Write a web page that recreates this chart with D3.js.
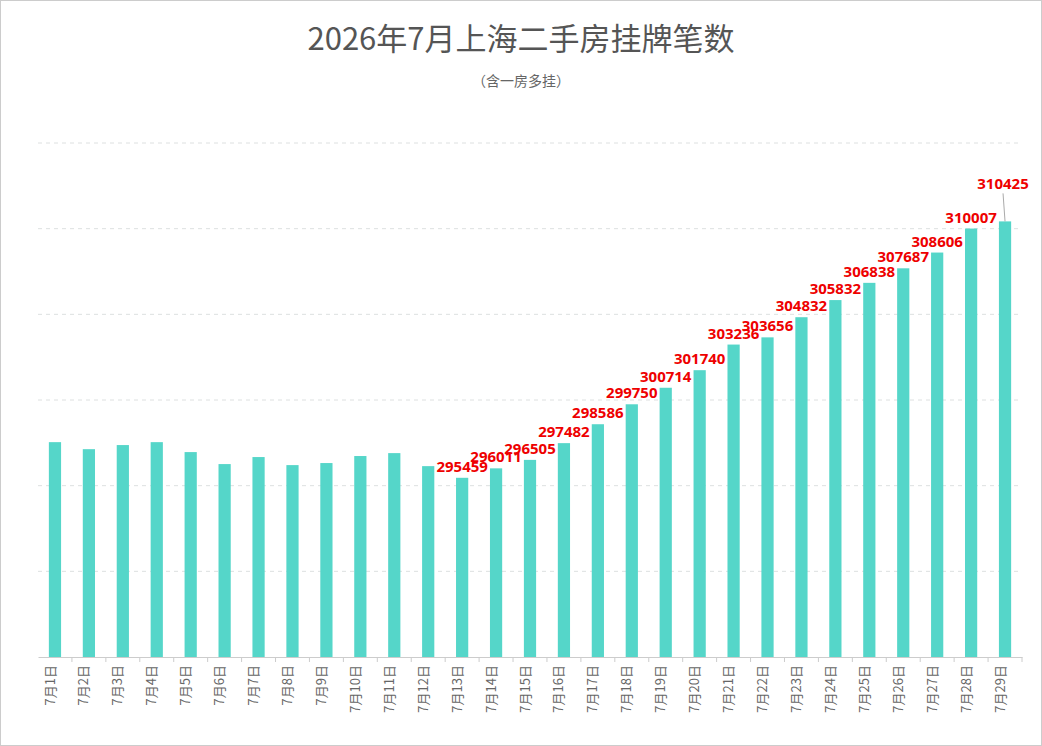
<!DOCTYPE html>
<html><head><meta charset="utf-8">
<script src="https://cdn.jsdelivr.net/npm/d3@7"></script>
<style>body{margin:0;background:#fff}</style>
</head><body><svg id="c"></svg>
<script>
var days = d3.range(1, 30).map(d => "7月" + d + "日")
var listings = [297540, 297130, 297370, 297540, 296960, 296260, 296670, 296200, 296320, 296730, 296900, 296140,
    295459, 296011, 296505, 297482, 298586, 299750, 300714, 301740, 303236, 303656, 304832, 305832,
    306838, 307687, 308606, 310007, 310425]
var firstLabeled = 12
var yTicks = [285000, 290000, 295000, 300000, 305000, 310000, 315000]

var W = 1042, H = 746
var margin = {top: 143, right: 20, bottom: 89, left: 38}
var svg = d3.select("#c").attr("width", W).attr("height", H)
svg.append("rect").attr("x", 0.5).attr("y", 0.5).attr("width", W - 1).attr("height", H - 1)
    .attr("fill", "#fff").attr("stroke", "#ccc")

svg.append("text").text("2026年7月上海二手房挂牌笔数")
    .attr("x", W / 2).attr("y", 50).attr("text-anchor", "middle")
    .style("font-size", "31px").style("font-family", "Noto Sans CJK SC").attr("fill", "#555")
svg.append("text").text("（含一房多挂）")
    .attr("x", W / 2).attr("y", 86).attr("text-anchor", "middle")
    .style("font-size", "14px").style("font-family", "Noto Sans CJK SC").attr("fill", "#666")

var width = W - margin.left - margin.right, height = H - margin.top - margin.bottom
var g = svg.append("g").attr("transform", `translate(${margin.left},${margin.top})`)

var x = d3.scaleBand().domain(days).range([0, width]).paddingInner(0.64).paddingOuter(0.32)
var y = d3.scaleLinear().domain([285000, 315000]).range([height, 0])

g.selectAll(".grid").data(yTicks.slice(1)).enter().append("line")
    .attr("x1", 0).attr("x2", width).attr("y1", d => y(d)).attr("y2", d => y(d))
    .attr("stroke", "#dde0e0").attr("stroke-dasharray", "4,4")

var xa = g.append("g").attr("transform", `translate(0,${height})`)
    .call(d3.axisBottom(x).tickSize(5).tickSizeOuter(0))
xa.select(".domain").attr("stroke", "#ccc")
xa.selectAll(".tick line").attr("stroke", "#ccc")
    .attr("transform", `translate(${x.step() / 2},0)`)
xa.selectAll(".tick text").attr("transform", "rotate(-90)")
    .attr("x", -8).attr("y", -5).attr("dy", "0.35em").attr("text-anchor", "end")
    .style("font-size", "13px").style("font-family", "Noto Sans CJK SC").attr("fill", "#666")

g.selectAll(".bar").data(listings).enter().append("rect")
    .attr("x", (d, i) => x(days[i])).attr("width", x.bandwidth())
    .attr("y", d => y(d)).attr("height", d => height - y(d))
    .attr("fill", "#55d6c9")

listings.forEach((d, i) => {
    if (i < firstLabeled) return
    var cx = x(days[i]) + x.bandwidth() / 2
    var ty = y(d) - 6
    if (i == listings.length - 1) {
        ty = y(d) - 32
        g.append("line").attr("x1", cx).attr("x2", cx - 2).attr("y1", y(d)).attr("y2", ty + 4)
            .attr("stroke", "#aaa")
        cx -= 2
    }
    g.append("text").text(d).attr("x", cx).attr("y", ty).attr("text-anchor", "middle")
        .style("font-size", "15px").style("font-weight", "bold")
        .style("font-family", "Noto Sans").attr("fill", "#ee0000")
})
</script></body></html>
